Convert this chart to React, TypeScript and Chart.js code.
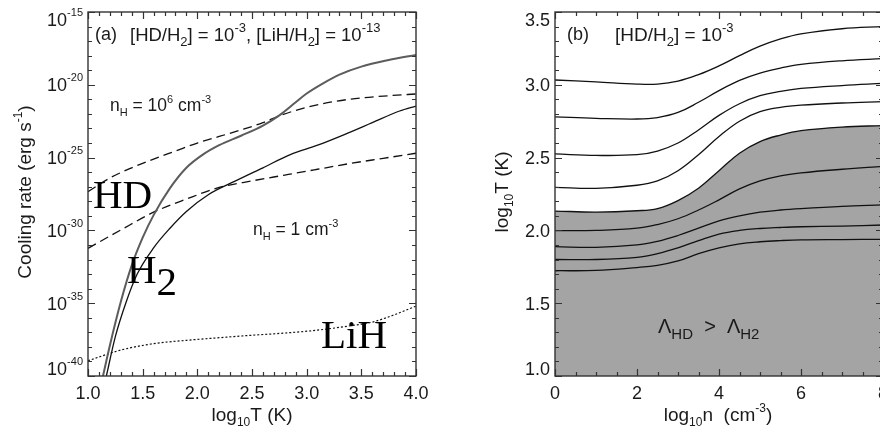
import React, { useEffect, useRef } from 'react';
import { Chart, registerables } from 'chart.js';
Chart.register(...registerables);

// ---------- Panel (a): cooling rates, x = log10 T, y = log10 rate ----------
const tH2High = [1.137, 1.2, 1.3, 1.4, 1.5, 1.6, 1.75, 1.9, 2.05, 2.2, 2.4, 2.6, 2.75, 2.9, 3.0, 3.15, 3.3, 3.5, 3.75, 4.0];
const logH2High = [-40, -37.9, -34.9, -32.4, -30.5, -28.95, -27.1, -25.7, -24.8, -24.15, -23.5, -22.8, -22.1, -21.2, -20.6, -19.9, -19.3, -18.75, -18.3, -17.95];

const tH2Low = [1.168, 1.25, 1.35, 1.45, 1.6, 1.75, 1.9, 2.1, 2.35, 2.6, 2.85, 3.1, 3.35, 3.6, 3.85, 4.0];
const logH2Low = [-40, -37.3, -34.9, -33.0, -31.2, -29.85, -28.7, -27.55, -26.6, -25.7, -24.8, -24.15, -23.4, -22.6, -21.8, -21.46];

const tHDHigh = [1.0, 1.2, 1.4, 1.6, 1.8, 2.0, 2.2, 2.4, 2.6, 2.76, 3.0, 3.25, 3.5, 3.75, 4.0];
const logHDHigh = [-27.34, -26.4, -25.7, -25.1, -24.55, -24.0, -23.55, -23.1, -22.6, -22.1, -21.55, -21.15, -20.9, -20.75, -20.63];

const tHDLow = [1.0, 1.3, 1.6, 1.9, 2.2, 2.5, 2.8, 3.1, 3.4, 3.7, 4.0];
const logHDLow = [-31.23, -29.97, -28.75, -27.85, -27.05, -26.6, -26.2, -25.8, -25.4, -25.05, -24.7];

const tLiH = [1.0, 1.3, 1.6, 1.9, 2.2, 2.5, 2.8, 3.1, 3.4, 3.6, 3.8, 4.0];
const logLiH = [-38.95, -38.22, -37.78, -37.55, -37.37, -37.2, -37.05, -36.85, -36.55, -36.3, -35.8, -35.2];

const leftXTicks = [1.0, 1.5, 2.0, 2.5, 3.0, 3.5, 4.0];
const leftYTickExps = [-15, -20, -25, -30, -35, -40];

// ---------- Panel (b): critical temperature contours, x = log10 n ----------
const logN = [0, 1, 2, 2.5, 3, 3.5, 4, 4.5, 5, 5.5, 6, 7, 8];
const contour1 = [3.033, 3.02, 3.005, 3.005, 3.025, 3.07, 3.13, 3.2, 3.265, 3.315, 3.35, 3.385, 3.4];
const contour2 = [2.78, 2.77, 2.765, 2.775, 2.81, 2.88, 2.96, 3.03, 3.08, 3.115, 3.14, 3.165, 3.18];
const contour3 = [2.525, 2.515, 2.52, 2.545, 2.6, 2.69, 2.79, 2.87, 2.925, 2.955, 2.975, 2.995, 3.01];
const contour4 = [2.296, 2.289, 2.31, 2.34, 2.41, 2.52, 2.645, 2.75, 2.815, 2.845, 2.86, 2.875, 2.885];
const boundary = [2.133, 2.126, 2.135, 2.15, 2.205, 2.29, 2.41, 2.53, 2.61, 2.655, 2.685, 2.71, 2.72];
const contour6 = [1.998, 2.0, 2.015, 2.04, 2.08, 2.14, 2.21, 2.285, 2.34, 2.375, 2.395, 2.42, 2.44];
const contour7 = [1.888, 1.884, 1.9, 1.925, 1.965, 2.015, 2.065, 2.1, 2.125, 2.14, 2.15, 2.165, 2.175];
const contour8 = [1.8, 1.8, 1.815, 1.84, 1.88, 1.93, 1.975, 2.0, 2.013, 2.02, 2.025, 2.03, 2.037];
const contour9 = [1.723, 1.725, 1.745, 1.76, 1.79, 1.84, 1.88, 1.908, 1.922, 1.93, 1.935, 1.937, 1.939];

const rightXTicks = [0, 2, 4, 6, 8];
const rightYTicks = [1.0, 1.5, 2.0, 2.5, 3.0, 3.5];

// ---------- helpers ----------
const SANS = '"Liberation Sans", Arial, Helvetica, sans-serif';
const SERIF = '"Liberation Serif", "Times New Roman", serif';
const INK = '#1a1a1a';

type Part = [string, 'n' | '^' | '_'];
interface RichOpts { align?: 'left' | 'center' | 'right'; rotate?: number; scale?: number; raise?: number; drop?: number; family?: string; }

function drawRich(ctx: CanvasRenderingContext2D, parts: Part[], x: number, y: number, size: number, o: RichOpts = {}) {
  const family = o.family || SANS;
  const sc = o.scale ?? 0.65;
  const raise = o.raise ?? 0.48;
  const drop = o.drop ?? 0.28;
  const fontFor = (k: string) => `${k === 'n' ? size : Math.round(size * sc)}px ${family}`;
  const widths = parts.map(([t, k]) => { ctx.font = fontFor(k); return ctx.measureText(t).width; });
  const total = widths.reduce((s, w) => s + w, 0);
  ctx.save();
  ctx.translate(x, y);
  if (o.rotate) ctx.rotate(o.rotate);
  let cx = o.align === 'center' ? -total / 2 : o.align === 'right' ? -total : 0;
  ctx.fillStyle = INK;
  ctx.textAlign = 'left';
  ctx.textBaseline = 'alphabetic';
  parts.forEach(([t, k], i) => {
    ctx.font = fontFor(k);
    const dy = k === '^' ? -size * raise : k === '_' ? size * drop : 0;
    ctx.fillText(t, cx, dy);
    cx += widths[i];
  });
  ctx.restore();
}

function frameAndTicks(ctx: CanvasRenderingContext2D, a: any, xMaj: number[], xMin: number[], yMaj: number[], yMin: number[]) {
  ctx.save();
  ctx.strokeStyle = '#333';
  ctx.lineWidth = 1.2;
  const seg = (xs: number[], ys: number[], len: number) => {
    ctx.beginPath();
    xs.forEach(p => {
      const px = Math.round(p) + 0.5;
      ctx.moveTo(px, a.bottom); ctx.lineTo(px, a.bottom - len);
      ctx.moveTo(px, a.top); ctx.lineTo(px, a.top + len);
    });
    ys.forEach(p => {
      const py = Math.round(p) + 0.5;
      ctx.moveTo(a.left, py); ctx.lineTo(a.left + len, py);
      ctx.moveTo(a.right, py); ctx.lineTo(a.right - len, py);
    });
    ctx.stroke();
  };
  seg(xMaj, yMaj, 7);
  seg(xMin, yMin, 4);
  ctx.lineWidth = 1.4;
  ctx.strokeRect(a.left, a.top, a.right - a.left, a.bottom - a.top);
  ctx.restore();
}

const clampY = (py: number, a: any) => Math.min(Math.max(py, a.top + 7), a.bottom - 8);

const leftDecor = {
  id: 'leftDecor',
  afterDraw(chart: any) {
    const { ctx, chartArea: a, scales: { x, y } } = chart;
    const xMaj = leftXTicks.map(v => x.getPixelForValue(v));
    const xMin: number[] = [];
    for (let v = 1.1; v < 4.0; v += 0.1) if (Math.abs(v * 2 - Math.round(v * 2)) > 0.01) xMin.push(x.getPixelForValue(v));
    const yMaj = leftYTickExps.map(e => y.getPixelForValue(Math.pow(10, e)));
    const yMin: number[] = [];
    for (let e = -39; e < -15; e++) if (e % 5 !== 0) yMin.push(y.getPixelForValue(Math.pow(10, e)));
    frameAndTicks(ctx, a, xMaj, xMin, yMaj, yMin);

    ctx.save();
    ctx.fillStyle = INK;
    ctx.font = `18px ${SANS}`;
    ctx.textAlign = 'center';
    ctx.textBaseline = 'alphabetic';
    leftXTicks.forEach((v, i) => ctx.fillText(v.toFixed(1), xMaj[i], a.bottom + 23));
    ctx.restore();
    leftYTickExps.forEach((e, i) => {
      drawRich(ctx, [['10', 'n'], [String(e), '^']], a.left - 5, clampY(yMaj[i], a) + 6.5, 18, { align: 'right', scale: 0.6, raise: 0.55 });
    });

    drawRich(ctx, [['Cooling rate (erg s', 'n'], ['-1', '^'], [')', 'n']], 31, 192, 19, { align: 'center', rotate: -Math.PI / 2 });
    drawRich(ctx, [['log', 'n'], ['10', '_'], ['T (K)', 'n']], (a.left + a.right) / 2, 421, 19, { align: 'center' });

    drawRich(ctx, [['(a)', 'n']], 95, 40, 18);
    drawRich(ctx, [['[HD/H', 'n'], ['2', '_'], ['] = 10', 'n'], ['-3', '^'], [', [LiH/H', 'n'], ['2', '_'], ['] = 10', 'n'], ['-13', '^']], 130, 41, 18.5, { scale: 0.68 });
    drawRich(ctx, [['n', 'n'], ['H', '_'], [' = 10', 'n'], ['6', '^'], [' cm', 'n'], ['-3', '^']], 110, 111, 17.5);
    drawRich(ctx, [['n', 'n'], ['H', '_'], [' = 1 cm', 'n'], ['-3', '^']], 253, 235, 17.5);

    ctx.save();
    ctx.fillStyle = '#000';
    ctx.font = `41px ${SERIF}`;
    ctx.textAlign = 'left';
    ctx.textBaseline = 'alphabetic';
    ctx.fillText('HD', 93, 208);
    ctx.fillText('H', 127, 283);
    const hw = ctx.measureText('H').width;
    ctx.fillText('2', 127 + hw, 295);
    ctx.fillText('LiH', 321, 348);
    ctx.restore();
  },
};

const rightDecor = {
  id: 'rightDecor',
  afterDraw(chart: any) {
    const { ctx, chartArea: a, scales: { x, y } } = chart;
    const xMaj = rightXTicks.map(v => x.getPixelForValue(v));
    const xMin: number[] = [];
    for (let v = 0.5; v < 8; v += 0.5) if (Math.round(v * 2) % 4 !== 0) xMin.push(x.getPixelForValue(v));
    const yMaj = rightYTicks.map(v => y.getPixelForValue(v));
    const yMin: number[] = [];
    for (let i = 11; i < 35; i++) if (i % 5 !== 0) yMin.push(y.getPixelForValue(i / 10));
    frameAndTicks(ctx, a, xMaj, xMin, yMaj, yMin);

    ctx.save();
    ctx.fillStyle = INK;
    ctx.font = `18px ${SANS}`;
    ctx.textAlign = 'center';
    ctx.textBaseline = 'alphabetic';
    rightXTicks.forEach((v, i) => ctx.fillText(String(v), xMaj[i], a.bottom + 23));
    ctx.textAlign = 'right';
    rightYTicks.forEach((v, i) => ctx.fillText(v.toFixed(1), a.left - 5, clampY(yMaj[i], a) + 6.5));
    ctx.restore();

    drawRich(ctx, [['log', 'n'], ['10', '_'], ['T (K)', 'n']], 68, 192, 19, { align: 'center', rotate: -Math.PI / 2 });
    drawRich(ctx, [['log', 'n'], ['10', '_'], ['n  (cm', 'n'], ['-3', '^'], [')', 'n']], 278, 421, 19, { align: 'center' });

    drawRich(ctx, [['(b)', 'n']], 127, 40, 18);
    drawRich(ctx, [['[HD/H', 'n'], ['2', '_'], ['] = 10', 'n'], ['-3', '^']], 175, 41, 19, { scale: 0.68 });
    drawRich(ctx, [['\u039B', 'n'], ['HD', '_'], ['  >  \u039B', 'n'], ['H2', '_']], 218, 333, 20, { scale: 0.75, drop: 0.3 });
  },
};

const toLog = (ts: number[], es: number[]) => ts.map((t, i) => ({ x: t, y: Math.pow(10, es[i]) }));
const toPts = (ys: number[]) => logN.map((n, i) => ({ x: n, y: ys[i] }));

const lineBase = { pointRadius: 0, fill: false, cubicInterpolationMode: 'monotone' as const };
const contourBase = { pointRadius: 0, fill: false, tension: 0.4 };

function leftConfig(): any {
  return {
    type: 'line',
    data: {
      datasets: [
        { ...lineBase, label: 'H2, nH = 1e6', data: toLog(tH2High, logH2High), borderColor: '#5c5c5c', borderWidth: 2 },
        { ...lineBase, label: 'H2, nH = 1', data: toLog(tH2Low, logH2Low), borderColor: '#111', borderWidth: 1.3 },
        { ...lineBase, label: 'HD, nH = 1e6', data: toLog(tHDHigh, logHDHigh), borderColor: '#111', borderWidth: 1.3, borderDash: [9, 5] },
        { ...lineBase, label: 'HD, nH = 1', data: toLog(tHDLow, logHDLow), borderColor: '#111', borderWidth: 1.3, borderDash: [9, 5] },
        { ...lineBase, label: 'LiH', data: toLog(tLiH, logLiH), borderColor: '#111', borderWidth: 1.2, borderDash: [2, 2] },
      ],
    },
    options: {
      responsive: false,
      animation: false,
      devicePixelRatio: 1,
      layout: { padding: { left: 88, top: 12, right: 24, bottom: 51 } },
      scales: {
        x: { type: 'linear', min: 1, max: 4, display: false },
        y: { type: 'logarithmic', min: 1e-40, max: 1e-15, display: false },
      },
      plugins: { legend: { display: false }, tooltip: { enabled: false } },
    },
    plugins: [leftDecor],
  };
}

function rightConfig(): any {
  const curves = [contour1, contour2, contour3, contour4, contour6, contour7, contour8, contour9];
  return {
    type: 'line',
    data: {
      datasets: [
        { ...contourBase, label: 'boundary', data: toPts(boundary), borderColor: '#111', borderWidth: 1.3, fill: 'start', backgroundColor: '#a4a4a4' },
        ...curves.map((c, i) => ({ ...contourBase, label: `c${i}`, data: toPts(c), borderColor: '#111', borderWidth: 1.3 })),
      ],
    },
    options: {
      responsive: false,
      animation: false,
      devicePixelRatio: 1,
      layout: { padding: { left: 115, top: 12, right: 17, bottom: 51 } },
      scales: {
        x: { type: 'linear', min: 0, max: 8, display: false },
        y: { type: 'linear', min: 1, max: 3.5, display: false },
      },
      plugins: { legend: { display: false }, tooltip: { enabled: false }, filler: { drawTime: 'beforeDatasetsDraw' } },
    },
    plugins: [rightDecor],
  };
}

function Panel({ make, left, width }: { make: () => any; left: number; width: number }) {
  const ref = useRef<HTMLCanvasElement | null>(null);
  useEffect(() => {
    if (!ref.current) return;
    const chart = new Chart(ref.current, make());
    return () => chart.destroy();
  }, []);
  return (
    <canvas
      ref={ref}
      width={width}
      height={427}
      style={{ position: 'absolute', left, top: 0, width, height: 427, display: 'block' }}
    />
  );
}

export default function App() {
  return (
    <div style={{ position: 'fixed', left: 0, top: 0, width: 880, height: 427, overflow: 'hidden', background: '#fff' }}>
      <Panel make={leftConfig} left={0} width={440} />
      <Panel make={rightConfig} left={440} width={460} />
    </div>
  );
}
